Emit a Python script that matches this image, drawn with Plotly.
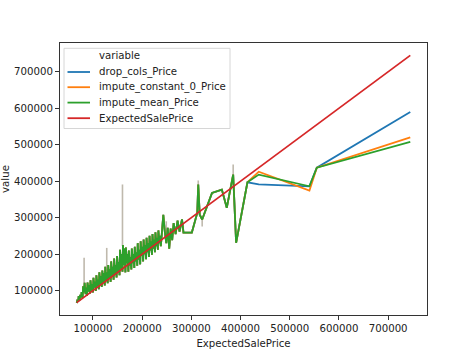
import plotly.graph_objects as go

# ExpectedSalePrice (x) for the dense low-price region, in thousands of dollars
low_x_k = [67, 68, 70, 71, 73, 74, 76, 77, 79, 80, 82, 83, 85, 86, 88, 89, 91, 92, 94, 95,
           97, 98, 100, 101, 103, 104, 106, 107, 109, 110, 112, 113, 115, 116, 118, 119, 121, 122, 124, 125,
           127, 128, 130, 131, 133, 134, 136, 137, 139, 140, 142, 143, 145, 146, 148, 149, 151, 152, 154, 155,
           157, 158, 160, 161, 163, 164, 166, 167, 169, 170, 172, 173, 175, 176, 178, 179, 181, 182, 184, 185,
           187, 188, 190, 191, 193, 194, 196, 197, 199, 200, 202, 203, 205, 206, 208, 209, 211, 212, 214, 215,
           217, 218, 220, 221, 223, 224, 226, 227, 229, 230, 232, 233, 235, 236, 238, 240, 243, 246, 249, 252,
           255, 258, 261, 264, 268, 272, 276, 281, 284, 301, 312, 314, 317, 322, 342, 362, 372, 385, 391, 414]
# predicted price (thousands) - the three models nearly coincide in this region
low_price_k = [66, 72, 70, 85, 74, 88, 82, 96, 80, 112, 95, 121, 90, 108, 86, 122, 97, 115, 92, 128,
               100, 118, 95, 135, 108, 125, 99, 142, 112, 130, 104, 150, 118, 140, 110, 155, 122, 148, 114, 165,
               128, 150, 120, 170, 134, 158, 124, 180, 140, 165, 130, 188, 145, 170, 136, 195, 150, 178, 142, 212,
               160, 200, 152, 225, 170, 215, 150, 218, 175, 200, 152, 210, 168, 192, 158, 215, 175, 200, 162, 220,
               180, 205, 168, 230, 185, 212, 172, 235, 195, 220, 180, 240, 200, 225, 186, 245, 205, 230, 192, 250,
               210, 235, 198, 255, 215, 240, 205, 260, 222, 245, 212, 265, 230, 250, 222, 270, 308, 262, 230, 272,
               215, 270, 238, 285, 255, 292, 262, 295, 259, 259, 313, 391, 308, 295, 368, 377, 327, 418, 231, 397]

# high-price region where the models diverge (thousands)
high_x_k = [437, 540, 555, 745]
drop_cols_high_k = [391, 386, 437, 590]
impute_constant_0_high_k = [426, 374, 437, 520]
impute_mean_high_k = [418, 386, 437, 508]

# confidence-interval spikes (x, low, high), thousands
ci_x_k = [82, 128, 160, 249, 314, 322, 385]
ci_lo_k = [121, 155, 222, 238, 391, 276, 418]
ci_hi_k = [190, 217, 391, 290, 402, 300, 446]

expected_x_k = [67, 745]

series_names = ["drop_cols_Price", "impute_constant_0_Price", "impute_mean_Price", "ExpectedSalePrice"]
series_colors = ["#1f77b4", "#ff7f0e", "#2ca02c", "#d62728"]

K = 1000
x_all = [v * K for v in low_x_k + high_x_k]
low_vals = [v * K for v in low_price_k]
model_y = [
    low_vals + [v * K for v in drop_cols_high_k],
    low_vals + [v * K for v in impute_constant_0_high_k],
    low_vals + [v * K for v in impute_mean_high_k],
]

fig = go.Figure()

# CI spikes (thin vertical bands)
for cx, lo, hi in zip(ci_x_k, ci_lo_k, ci_hi_k):
    fig.add_trace(go.Scatter(
        x=[cx * K, cx * K], y=[lo * K, hi * K],
        mode="lines", line=dict(color="rgba(170,162,145,0.75)", width=1.6),
        showlegend=False, hoverinfo="skip"))

for name, y, color in zip(series_names[:3], model_y, series_colors[:3]):
    fig.add_trace(go.Scatter(x=x_all, y=y, mode="lines", name=name, showlegend=False,
                             line=dict(color=color, width=1.8)))

ex = [v * K for v in expected_x_k]
fig.add_trace(go.Scatter(x=ex, y=ex, mode="lines", name=series_names[3], showlegend=False,
                         line=dict(color=series_colors[3], width=1.8)))

font = dict(family="DejaVu Sans", size=10.2, color="#222222")
axis_common = dict(showgrid=False, zeroline=False, showline=True, mirror=True,
                   linecolor="#333333", linewidth=1, ticks="outside", ticklen=4,
                   tickcolor="#333333", tickformat="d", automargin=False,
                   tickfont=font, title_font=font)
ticks = [100000, 200000, 300000, 400000, 500000, 600000, 700000]
fig.update_xaxes(range=[33000, 779000], tickvals=ticks,
                 title_text="ExpectedSalePrice", title_standoff=6, **axis_common)
fig.update_yaxes(range=[33000, 779000], tickvals=ticks,
                 title_text="value", title_standoff=9, **axis_common)

# matplotlib-style legend drawn in paper coordinates
L, R, T, B = 60, 427, 43, 315
W, H = R - L, B - T
px = lambda x: (x - L) / W
py = lambda y: (B - y) / H
shapes = [dict(type="rect", xref="paper", yref="paper",
               x0=px(64), x1=px(230), y0=py(128.5), y1=py(48.3),
               line=dict(color="#d6d6d6", width=1), fillcolor="rgba(255,255,255,0.8)", layer="above")]
annotations = [dict(xref="paper", yref="paper", x=px(97), y=py(55.7), text="variable",
                    showarrow=False, xanchor="left", yanchor="middle", font=font)]
row_y = [72, 87.2, 102.6, 118.2]
for name, color, yy in zip(series_names, series_colors, row_y):
    shapes.append(dict(type="line", xref="paper", yref="paper", x0=px(67.5), x1=px(90),
                       y0=py(yy), y1=py(yy), line=dict(color=color, width=1.8), layer="above"))
    annotations.append(dict(xref="paper", yref="paper", x=px(97), y=py(yy), text=name,
                            showarrow=False, xanchor="left", yanchor="middle", font=font))

fig.update_layout(
    width=474, height=355,
    margin=dict(l=L, r=474 - R, t=T, b=355 - B),
    paper_bgcolor="white", plot_bgcolor="white",
    font=font, showlegend=False,
    shapes=shapes, annotations=annotations,
)

fig.write_html("out.html")
